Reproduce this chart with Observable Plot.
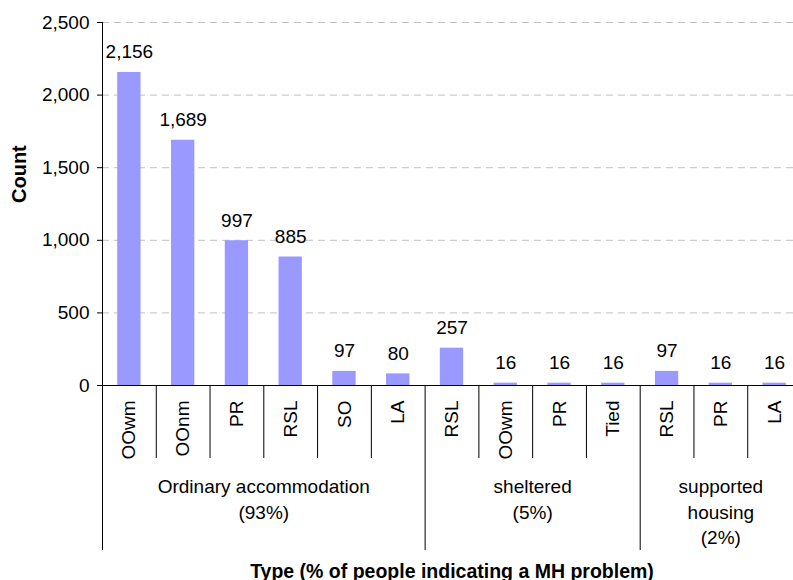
<!DOCTYPE html>
<html><head><meta charset="utf-8">
<script src="https://cdn.jsdelivr.net/npm/d3@7"></script>
<script src="https://cdn.jsdelivr.net/npm/@observablehq/plot@0.6"></script>
<style>
html,body{margin:0;padding:0;background:#fff;overflow:hidden;}
</style></head><body><div id="chart"></div>
<script>
// Data
const groups = ["Ordinary accommodation\n(93%)", "sheltered\n(5%)", "supported\nhousing\n(2%)"];
const groupSizes = [6, 4, 3];
const categories = ["OOwm","OOnm","PR","RSL","SO","LA","RSL","OOwm","PR","Tied","RSL","PR","LA"];
const counts = [2156,1689,997,885,97,80,257,16,16,16,97,16,16];
const yTicks = [0,500,1000,1500,2000,2500];
const yTitle = "Count";
const xTitle = "Type (% of people indicating a MH problem)";

// Derived tables
const bars = categories.map((c, i) => ({i, cat: c, value: counts[i]}));
let pos = 0;
const groupRows = groups.map((g, k) => { const r = {label: g, start: pos, end: pos + groupSizes[k]}; pos += groupSizes[k]; return r; });
const innerBounds = [];
groupRows.forEach(g => { for (let b = g.start + 1; b < g.end; b++) innerBounds.push(b); });
const groupBounds = groupRows.map(g => g.start).concat([pos]);

const half = 0.217;
const fmt = d3.format(",");

const chart = Plot.plot({
  width: 793, height: 580,
  marginTop: 22, marginLeft: 102, marginRight: -8, marginBottom: 195,
  style: {fontFamily: "Arial, 'Liberation Sans', sans-serif", fontSize: "19px", color: "#000", background: "#fff", overflow: "hidden"},
  x: {type: "linear", domain: [0, categories.length], axis: null},
  y: {domain: [0, 2500], axis: null},
  marks: [
    Plot.gridY(yTicks.filter(d => d > 0), {stroke: "#c0c0c0", strokeOpacity: 1, strokeDasharray: "7,5"}),
    Plot.rect(bars, {x1: d => d.i + 0.5 - half, x2: d => d.i + 0.5 + half, y1: 0, y2: "value", fill: "#9999ff"}),
    Plot.text(bars, {x: d => d.i + 0.5, y: "value", text: d => fmt(d.value), dy: -14, lineAnchor: "bottom"}),
    Plot.ruleY([0], {stroke: "#000"}),
    Plot.ruleX([0], {stroke: "#000"}),
    Plot.ruleX(innerBounds, {x: d => d, y1: 0, y2: 0, insetBottom: -73, stroke: "#000"}),
    Plot.ruleX(groupBounds, {x: d => d, y1: 0, y2: 0, insetBottom: -165, stroke: "#000"}),
    Plot.axisY({ticks: yTicks, tickFormat: fmt, tickSize: 5, tickPadding: 8, label: null}),
    Plot.text(bars, {x: d => d.i + 0.5, y: 0, text: "cat", rotate: -90, textAnchor: "end", lineAnchor: "middle", dy: 15}),
    Plot.text(groupRows, {x: d => (d.start + d.end) / 2, y: 0, text: "label", lineAnchor: "top", lineHeight: 1.33, dy: 90}),
    Plot.text([yTitle], {frameAnchor: "left", rotate: -90, dx: -83, dy: -1, fontWeight: "bold", fontSize: 20}),
    Plot.text([xTitle], {frameAnchor: "bottom", dy: 192, lineAnchor: "bottom", fontWeight: "bold", fontSize: 19.5})
  ]
});
document.getElementById("chart").appendChild(chart);
</script>
</body></html>
